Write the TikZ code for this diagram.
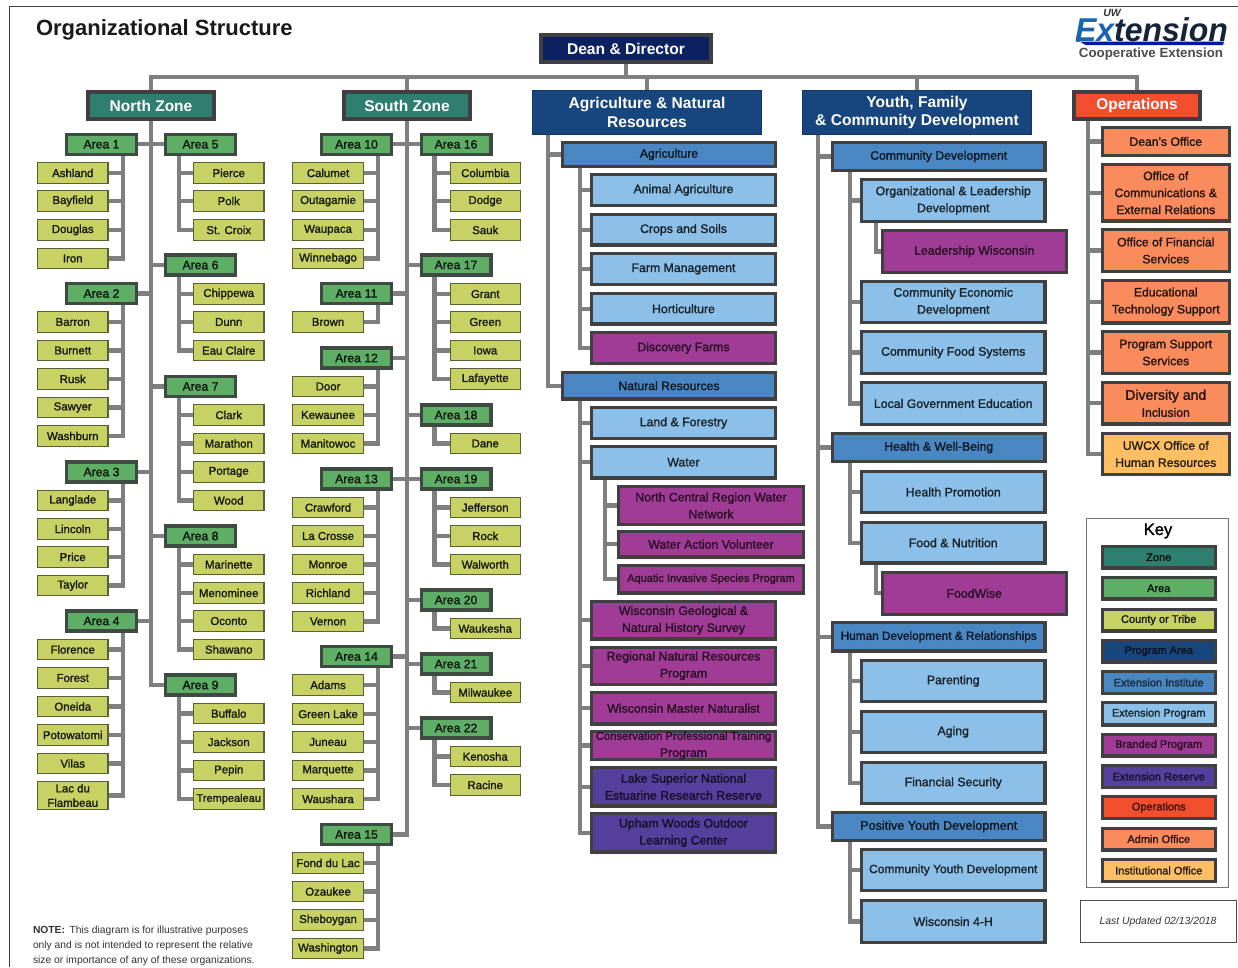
\documentclass[tikz,border=0pt]{standalone}
\usepackage{fontspec}
\usetikzlibrary{backgrounds}
\setmainfont{Liberation Sans}
\newfontfamily\lab[FakeBold=1.5]{Liberation Sans}
\definecolor{edge}{HTML}{404040}
\definecolor{wire}{HTML}{7F7F7F}
\definecolor{zonef}{HTML}{2F7F70}
\definecolor{areaf}{HTML}{5FAE66}
\definecolor{areae}{HTML}{3A5A44}
\definecolor{ctyf}{HTML}{C8D264}
\definecolor{ctye}{HTML}{5A6035}
\definecolor{navyf}{HTML}{0B2160}
\definecolor{progf}{HTML}{17457D}
\definecolor{instf}{HTML}{4A86C2}
\definecolor{pgmf}{HTML}{8CC0E9}
\definecolor{brandf}{HTML}{A03C96}
\definecolor{resf}{HTML}{55409E}
\definecolor{opsf}{HTML}{F04E2D}
\definecolor{admf}{HTML}{F98B5C}
\definecolor{insf}{HTML}{FDBE64}
\newcommand\bx[7]{\node[#2,minimum width={(#5-(#3))*1pt-\pgflinewidth},minimum height={(#6-(#4))*1pt-\pgflinewidth}] (#1) at ({((#3)+(#5))/2},{((#4)+(#6))/2}) {#7};}
\newcommand\ar[4]{\bx{#1}{areabox}{#2}{#3-11.6}{#2+73}{#3+11.6}{#4}}
\newcommand\cty[4]{\bx{#1}{ctybox}{#2}{#3-10.8}{#2+71.5}{#3+10.8}{#4}}
\tikzset{
 base/.style={draw,inner sep=0pt,outer sep=0pt,align=center},
 conn/.style={draw=wire,line width=4.2pt,line join=miter},
 areabox/.style={base,draw=edge!60!areae,fill=areaf,line width=3.4pt,text=black!88!areaf,font=\lab\fontsize{12.2}{14}\selectfont},
 ctybox/.style={base,draw=ctye,fill=ctyf,line width=1.1pt,text=black!88!ctyf,font=\lab\fontsize{11.4}{14.4}\selectfont},
 zonebox/.style={base,draw=edge,fill=zonef,line width=3.8pt,text=white,font=\bfseries\fontsize{15.5}{19}\selectfont},
 deanbox/.style={base,draw=edge,fill=navyf,line width=3.6pt,text=white,font=\bfseries\fontsize{15.6}{19}\selectfont},
 progbox/.style={base,draw=progf!80!black,fill=progf,line width=1.2pt,text=white,font=\bfseries\fontsize{15.6}{18.8}\selectfont},
 instbox/.style={base,draw=edge,fill=instf,line width=3.2pt,text=black!82!instf,font=\lab\fontsize{12.2}{17}\selectfont},
 pgmbox/.style={base,draw=edge,fill=pgmf,line width=3.2pt,text=black!82!pgmf,font=\lab\fontsize{12.3}{17}\selectfont},
 brandbox/.style={base,draw=edge,fill=brandf,line width=3.2pt,text=black!75!brandf,font=\lab\fontsize{12.3}{17}\selectfont},
 resbox/.style={base,draw=edge,fill=resf,line width=3.2pt,text=black!75!resf,font=\lab\fontsize{12.3}{17}\selectfont},
 opsbox/.style={base,draw=edge,fill=opsf,line width=3.8pt,text=white,font=\bfseries\fontsize{15.4}{19}\selectfont},
 admbox/.style={base,draw=edge,fill=admf,line width=3.2pt,text=black!85!admf,font=\lab\fontsize{12.2}{17}\selectfont},
 insbox/.style={base,draw=edge,fill=insf,line width=3.2pt,text=black!85!insf,font=\lab\fontsize{12.2}{17}\selectfont},
 keybase/.style={line width=3.4pt,font=\lab\fontsize{11}{12}\selectfont},
 plain/.style={inner sep=0pt,outer sep=0pt},
}
\begin{document}
\begin{tikzpicture}[x=1pt,y=-1pt]
\useasboundingbox (0,0) rectangle (1238,967);
\draw[edge,line width=1pt] (9.5,967) -- (9.5,6.5) -- (1238,6.5);
% title and logo
\node[plain,anchor=base west,font=\bfseries\fontsize{22}{24}\selectfont,text=black!90] (title) at (36,35) {Organizational Structure};
\fill[blue!60!black!90!cyan] (1076,41.5) -- (1224,41.5) -- (1223,45) -- (1086,45) to[bend left=20] (1076,36) -- cycle;
\node[plain,anchor=base west,font=\bfseries\itshape\fontsize{33}{36}\selectfont,xscale=.97] (logo) at (1075,41) {\textcolor[HTML]{1A63AE}{Ex}\textcolor[HTML]{16243A}{tension}};
\node[plain,font=\bfseries\itshape\fontsize{10.5}{11}\selectfont,text=black!80] (uw) at (1112,12.5) {UW};
\node[plain,font=\bfseries\fontsize{13.3}{14}\selectfont,text=black!70] (coop) at (1151,54) {Cooperative Extension};
% top level
\bx{dean}{deanbox}{539}{33}{713}{64}{Dean \& Director}
\bx{nz}{zonebox}{86}{90}{216}{121}{North Zone}
\bx{sz}{zonebox}{342}{90}{472}{121}{South Zone}
\bx{anr}{progbox}{532}{90}{762}{135}{Agriculture \& Natural\\Resources}
\bx{yfc}{progbox}{802}{90}{1032}{135}{Youth, Family\\\& Community Development}
\bx{ops}{opsbox}{1072}{90}{1202}{121}{Operations}
% north zone, left column
\ar{a1}{65}{144.3}{Area 1}
\cty{ashland}{37}{173}{Ashland}\cty{bayfield}{37}{201}{Bayfield}\cty{douglas}{37}{230}{Douglas}\cty{iron}{37}{258.5}{Iron}
\ar{a2}{65}{293.5}{Area 2}
\cty{barron}{37}{322}{Barron}\cty{burnett}{37}{350.5}{Burnett}\cty{rusk}{37}{379}{Rusk}\cty{sawyer}{37}{407.5}{Sawyer}\cty{washburn}{37}{436}{Washburn}
\ar{a3}{65}{472}{Area 3}
\cty{langlade}{37}{500.5}{Langlade}\cty{lincoln}{37}{529}{Lincoln}\cty{price}{37}{557}{Price}\cty{taylor}{37}{585.5}{Taylor}
\ar{a4}{65}{621}{Area 4}
\cty{florence}{37}{649.5}{Florence}\cty{forest}{37}{678}{Forest}\cty{oneida}{37}{706.5}{Oneida}\cty{potowatomi}{37}{735}{Potowatomi}\cty{vilas}{37}{763.5}{Vilas}
\bx{lac}{ctybox}{37}{781}{108.5}{810}{Lac du\\Flambeau}
% north zone, right column
\ar{a5}{164}{144.3}{Area 5}
\cty{pierce}{193}{173}{Pierce}\cty{polk}{193}{201}{Polk}\cty{stcroix}{193}{230}{St. Croix}
\ar{a6}{164}{265}{Area 6}
\cty{chippewa}{193}{294}{Chippewa}\cty{dunn}{193}{322}{Dunn}\cty{eauclaire}{193}{350.5}{Eau Claire}
\ar{a7}{164}{386.5}{Area 7}
\cty{clark}{193}{415}{Clark}\cty{marathon}{193}{443.5}{Marathon}\cty{portage}{193}{472}{Portage}\cty{wood}{193}{500.5}{Wood}
\ar{a8}{164}{536}{Area 8}
\cty{marinette}{193}{564.5}{Marinette}\cty{menominee}{193}{593}{Menominee}\cty{oconto}{193}{621}{Oconto}\cty{shawano}{193}{649.5}{Shawano}
\ar{a9}{164}{685}{Area 9}
\cty{buffalo}{193}{713.5}{Buffalo}\cty{jackson}{193}{742}{Jackson}\cty{pepin}{193}{770.5}{Pepin}\bx{trempealeau}{ctybox}{193}{788}{264.5}{810}{\fontsize{11}{14}\selectfont Trempealeau}
% south zone, left column
\ar{a10}{320}{144.3}{Area 10}
\cty{calumet}{292.3}{173}{Calumet}\cty{outagamie}{292.3}{201}{Outagamie}\cty{waupaca}{292.3}{230}{Waupaca}\cty{winnebago}{292.3}{258.5}{Winnebago}
\ar{a11}{320}{293.5}{Area 11}
\cty{brown}{292.3}{322}{Brown}
\ar{a12}{320}{358}{Area 12}
\cty{door}{292.3}{386.5}{Door}\cty{kewaunee}{292.3}{415}{Kewaunee}\cty{manitowoc}{292.3}{443.5}{Manitowoc}
\ar{a13}{320}{479}{Area 13}
\cty{crawford}{292.3}{507.5}{Crawford}\cty{lacrosse}{292.3}{536}{La Crosse}\cty{monroe}{292.3}{564.5}{Monroe}\cty{richland}{292.3}{593}{Richland}\cty{vernon}{292.3}{621.5}{Vernon}
\ar{a14}{320}{656.5}{Area 14}
\cty{adams}{292.3}{685}{Adams}\cty{greenlake}{292.3}{714}{Green Lake}\cty{juneau}{292.3}{742}{Juneau}\cty{marquette}{292.3}{770.5}{Marquette}\cty{waushara}{292.3}{799}{Waushara}
\ar{a15}{320}{834.5}{Area 15}
\cty{fonddulac}{292.3}{863}{Fond du Lac}\cty{ozaukee}{292.3}{891.5}{Ozaukee}\cty{sheboygan}{292.3}{920}{Sheboygan}\cty{washington}{292.3}{948.5}{Washington}
% south zone, right column
\ar{a16}{419.5}{144.3}{Area 16}
\cty{columbia}{449.5}{173}{Columbia}\cty{dodge}{449.5}{201}{Dodge}\cty{sauk}{449.5}{230}{Sauk}
\ar{a17}{419.5}{265}{Area 17}
\cty{grant}{449.5}{294}{Grant}\cty{green}{449.5}{322}{Green}\cty{iowa}{449.5}{350.5}{Iowa}\cty{lafayette}{449.5}{379}{Lafayette}
\ar{a18}{419.5}{415}{Area 18}
\cty{dane}{449.5}{443.5}{Dane}
\ar{a19}{419.5}{479}{Area 19}
\cty{jefferson}{449.5}{507.5}{Jefferson}\cty{rock}{449.5}{536}{Rock}\cty{walworth}{449.5}{564.5}{Walworth}
\ar{a20}{419.5}{600}{Area 20}
\cty{waukesha}{449.5}{628.5}{Waukesha}
\ar{a21}{419.5}{664}{Area 21}
\cty{milwaukee}{449.5}{692.5}{Milwaukee}
\ar{a22}{419.5}{728}{Area 22}
\cty{kenosha}{449.5}{756.5}{Kenosha}\cty{racine}{449.5}{785}{Racine}
% agriculture and natural resources
\bx{agri}{instbox}{561}{141}{777}{168}{Agriculture}
\bx{animal}{pgmbox}{590}{173}{777}{207}{Animal Agriculture}
\bx{crops}{pgmbox}{590}{213}{777}{246.5}{Crops and Soils}
\bx{farm}{pgmbox}{590}{252}{777}{286}{Farm Management}
\bx{horti}{pgmbox}{590}{292}{777}{325.5}{Horticulture}
\bx{disc}{brandbox}{590}{331}{777}{365}{Discovery Farms}
\bx{natres}{instbox}{561}{371}{777}{400.5}{Natural Resources}
\bx{land}{pgmbox}{590}{406}{777}{440}{Land \& Forestry}
\bx{water}{pgmbox}{590}{445}{777}{479.5}{Water}
\bx{ncr}{brandbox}{617}{485}{805}{526}{North Central Region Water\\Network}
\bx{wav}{brandbox}{617}{530}{805}{558.5}{Water Action Volunteer}
\bx{aqua}{brandbox}{617}{563.5}{805}{594.5}{\fontsize{11}{14}\selectfont Aquatic Invasive Species Program}
\bx{geo}{brandbox}{590}{600}{777}{640.5}{Wisconsin Geological \&\\Natural History Survey}
\bx{regional}{brandbox}{590}{645.5}{777}{686}{Regional Natural Resources\\Program}
\bx{master}{brandbox}{590}{691}{777}{725.5}{Wisconsin Master Naturalist}
\bx{conserv}{brandbox}{590}{730}{777}{761}{\fontsize{11.3}{15.5}\selectfont Conservation Professional Training\\Program}
\bx{lake}{resbox}{590}{766}{777}{807.5}{Lake Superior National\\Estuarine Research Reserve}
\bx{upham}{resbox}{590}{812}{777}{853.5}{Upham Woods Outdoor\\Learning Center}
% youth, family and community development
\bx{comdev}{instbox}{831}{141}{1046.5}{172}{Community Development}
\bx{orglead}{pgmbox}{860}{178}{1046.5}{223}{Organizational \& Leadership\\Development}
\bx{leadwi}{brandbox}{880.5}{229}{1068}{274}{Leadership Wisconsin}
\bx{comecon}{pgmbox}{860}{280}{1046.5}{324}{Community Economic\\Development}
\bx{comfood}{pgmbox}{860}{330}{1046.5}{375}{Community Food Systems}
\bx{localgov}{pgmbox}{860}{381}{1046.5}{426}{Local Government Education}
\bx{health}{instbox}{831}{432}{1046.5}{463}{Health \& Well-Being}
\bx{healthp}{pgmbox}{860}{470}{1046.5}{514}{Health Promotion}
\bx{foodn}{pgmbox}{860}{521}{1046.5}{564.5}{Food \& Nutrition}
\bx{foodw}{brandbox}{880.5}{570.5}{1068}{616}{FoodWise}
\bx{human}{instbox}{831}{621}{1046.5}{652.5}{\fontsize{11.8}{14}\selectfont Human Development \& Relationships}
\bx{parenting}{pgmbox}{860}{659}{1046.5}{703}{Parenting}
\bx{aging}{pgmbox}{860}{710}{1046.5}{754}{Aging}
\bx{finsec}{pgmbox}{860}{761}{1046.5}{805}{Financial Security}
\bx{pyd}{instbox}{831}{811}{1046.5}{842}{\fontsize{12.6}{14}\selectfont Positive Youth Development}
\bx{cyd}{pgmbox}{860}{848}{1046.5}{892}{\fontsize{12}{14}\selectfont Community Youth Development}
\bx{fourh}{pgmbox}{860}{899}{1046.5}{944}{Wisconsin 4-H}
% operations
\bx{deans}{admbox}{1100.5}{126}{1231}{157}{Dean's Office}
\bx{comms}{admbox}{1100.5}{163}{1231}{222.5}{Office of\\Communications \&\\External Relations}
\bx{fin}{admbox}{1100.5}{228}{1231}{273}{Office of Financial\\Services}
\bx{edtech}{admbox}{1100.5}{279}{1231}{324.5}{Educational\\Technology Support}
\bx{progsup}{admbox}{1100.5}{330}{1231}{375}{Program Support\\Services}
\bx{divers}{admbox}{1100.5}{381}{1231}{425.5}{\fontsize{14}{18.5}\selectfont Diversity and\\Inclusion}
\bx{uwcx}{insbox}{1100.5}{432}{1231}{476}{UWCX Office of\\Human Resources}
% key
\node[draw=black!55,line width=.9pt,minimum width=142pt,minimum height=369pt,inner sep=0pt,outer sep=0pt] (keyframe) at (1157,702.5) {};
\node[plain,font=\lab\fontsize{16.5}{18}\selectfont] (keytitle) at (1158,531) {Key};
\bx{kzone}{zonebox,keybase,text=black!85!zonef}{1100.5}{545}{1217}{569.5}{Zone}
\bx{karea}{areabox,keybase,draw=edge}{1100.5}{576}{1217}{600.5}{Area}
\bx{kcty}{ctybox,keybase,draw=edge}{1100.5}{607.5}{1217}{632.5}{County or Tribe}
\bx{kprog}{progbox,keybase,draw=edge,text=black!75!progf}{1100.5}{639}{1217}{663.5}{Program Area}
\bx{kinst}{instbox,keybase,text=black!70!instf}{1100.5}{670}{1217}{695}{Extension Institute}
\bx{kpgm}{pgmbox,keybase}{1100.5}{701}{1217}{726.5}{Extension Program}
\bx{kbrand}{brandbox,keybase}{1100.5}{732.5}{1217}{757.5}{Branded Program}
\bx{kres}{resbox,keybase,text=black!72!resf}{1100.5}{764}{1217}{789}{Extension Reserve}
\bx{kops}{opsbox,keybase,text=black!75!opsf}{1100.5}{795}{1217}{820}{Operations}
\bx{kadm}{admbox,keybase}{1100.5}{826.5}{1217}{851.5}{Admin Office}
\bx{kins}{insbox,keybase}{1100.5}{858}{1217}{883}{Institutional Office}
\node[draw=black!70,line width=.9pt,minimum width=156pt,minimum height=42pt,inner sep=0pt,outer sep=0pt,font=\itshape\fontsize{10.4}{12}\selectfont,text=black!80] (updated) at (1158,921.5) {\raisebox{-1pt}{Last Updated 02/13/2018}};
\node[plain,anchor=north west,align=left,font=\fontsize{10.3}{14.8}\selectfont,text=black!80] (note) at (33,926.5) {\textbf{NOTE:}\, This diagram is for illustrative purposes\\only and is not intended to represent the relative\\size or importance of any of these organizations.};
% connectors
\begin{pgfonlayer}{background}
\fill[white] (0,0) rectangle (1238,967);
\coordinate (tbus) at (0,76.8);
\coordinate (tnl) at (123,0);\coordinate (tnr) at (179.3,0);
\coordinate (tsl) at (378,0);\coordinate (tsr) at (434.5,0);
\coordinate (tanr) at (548.2,0);\coordinate (tagri) at (580,0);\coordinate (twat) at (605,0);
\coordinate (tyfc) at (818,0);\coordinate (tsub) at (850,0);\coordinate (tlead) at (876,0);
\coordinate (tops) at (1088,0);
% bus
\draw[conn] (dean.south) -- (dean.south |- tbus);
\draw[conn] (nz.north) |- (ops.north |- tbus) -- (ops.north);
\draw[conn] (sz.north) -- (sz.north |- tbus);
\draw[conn] (anr.north) -- (anr.north |- tbus);
\draw[conn] (yfc.north) -- (yfc.north |- tbus);
% zone trunks
\draw[conn] (nz.south) |- (a9.west);
\foreach \a in {a1,a2,a3,a4}{\draw[conn] (\a.east) -- (\a.east -| nz.south);}
\foreach \a in {a5,a6,a7,a8}{\draw[conn] (\a.west) -- (\a.west -| nz.south);}
\draw[conn] (sz.south) |- (a15.east);
\foreach \a in {a10,a11,a12,a13,a14}{\draw[conn] (\a.east) -- (\a.east -| sz.south);}
\foreach \a in {a16,a17,a18,a19,a20,a21,a22}{\draw[conn] (\a.west) -- (\a.west -| sz.south);}
% left-side counties
\foreach \a/\last/\t in {a1/iron/tnl,a2/washburn/tnl,a3/taylor/tnl,a4/lac/tnl,a10/winnebago/tsl,a11/brown/tsl,a12/manitowoc/tsl,a13/vernon/tsl,a14/waushara/tsl,a15/washington/tsl}{\draw[conn] (\a.south -| \t) |- (\last.east);}
\foreach \c/\t in {ashland/tnl,bayfield/tnl,douglas/tnl,barron/tnl,burnett/tnl,rusk/tnl,sawyer/tnl,langlade/tnl,lincoln/tnl,price/tnl,florence/tnl,forest/tnl,oneida/tnl,potowatomi/tnl,vilas/tnl,calumet/tsl,outagamie/tsl,waupaca/tsl,door/tsl,kewaunee/tsl,crawford/tsl,lacrosse/tsl,monroe/tsl,richland/tsl,adams/tsl,greenlake/tsl,juneau/tsl,marquette/tsl,fonddulac/tsl,ozaukee/tsl,sheboygan/tsl}{\draw[conn] (\c.east) -- (\c.east -| \t);}
% right-side counties
\foreach \a/\last/\t in {a5/stcroix/tnr,a6/eauclaire/tnr,a7/wood/tnr,a8/shawano/tnr,a9/trempealeau/tnr,a16/sauk/tsr,a17/lafayette/tsr,a18/dane/tsr,a19/walworth/tsr,a20/waukesha/tsr,a21/milwaukee/tsr,a22/racine/tsr}{\draw[conn] (\a.south -| \t) |- (\last.west);}
\foreach \c/\t in {pierce/tnr,polk/tnr,chippewa/tnr,dunn/tnr,clark/tnr,marathon/tnr,portage/tnr,marinette/tnr,menominee/tnr,oconto/tnr,buffalo/tnr,jackson/tnr,pepin/tnr,columbia/tsr,dodge/tsr,grant/tsr,green/tsr,iowa/tsr,jefferson/tsr,rock/tsr,kenosha/tsr}{\draw[conn] (\c.west) -- (\c.west -| \t);}
% programme trunks
\draw[conn] (anr.south -| tanr) |- (natres.west);
\draw[conn] (agri.west) -- (agri.west -| tanr);
\draw[conn] (agri.south -| tagri) |- (disc.west);
\foreach \c in {animal,crops,farm,horti}{\draw[conn] (\c.west) -- (\c.west -| tagri);}
\draw[conn] (natres.south -| tagri) |- (upham.west);
\foreach \c in {land,water,geo,regional,master,conserv,lake}{\draw[conn] (\c.west) -- (\c.west -| tagri);}
\draw[conn] (water.south -| twat) |- (aqua.west);
\foreach \c in {ncr,wav}{\draw[conn] (\c.west) -- (\c.west -| twat);}
\draw[conn] (yfc.south -| tyfc) |- (pyd.west);
\foreach \c in {comdev,health,human}{\draw[conn] (\c.west) -- (\c.west -| tyfc);}
\foreach \p/\last in {comdev/localgov,health/foodn,human/finsec,pyd/fourh}{\draw[conn] (\p.south -| tsub) |- (\last.west);}
\foreach \c in {orglead,comecon,comfood,healthp,parenting,aging,cyd}{\draw[conn] (\c.west) -- (\c.west -| tsub);}
\draw[conn] (orglead.south -| tlead) |- (leadwi.west);
\draw[conn] (foodn.south -| tlead) |- (foodw.west);
\draw[conn] (ops.south -| tops) |- (uwcx.west);
\foreach \c in {deans,comms,fin,edtech,progsup,divers}{\draw[conn] (\c.west) -- (\c.west -| tops);}
\end{pgfonlayer}
\end{tikzpicture}
\end{document}
